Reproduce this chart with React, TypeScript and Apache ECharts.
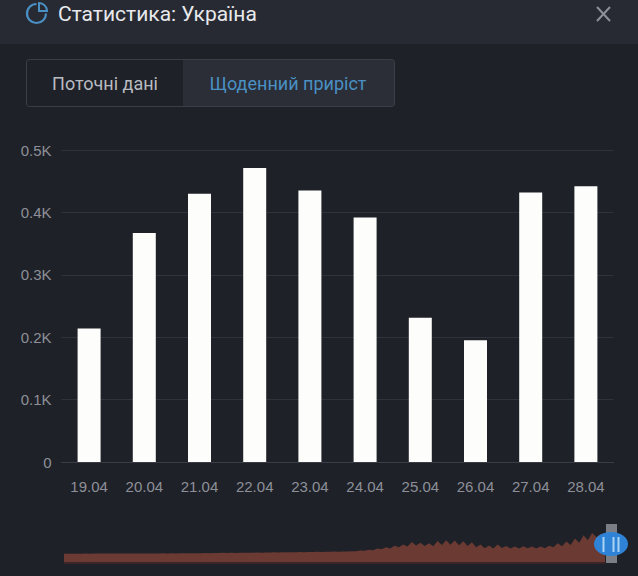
import React, { useEffect, useRef } from "react";
import * as echarts from "echarts";

const titleText = "Статистика: Україна";
const tabLabels = ["Поточні дані", "Щоденний приріст"];
const categories = ["19.04", "20.04", "21.04", "22.04", "23.04", "24.04", "25.04", "26.04", "27.04", "28.04"];
const dailyValues = [214, 367, 430, 471, 435, 392, 231, 195, 432, 442];
const yTicks = [0, 100, 200, 300, 400, 500];
// Overview of the whole period.
const overviewValues = [
  3, 4, 5, 6, 6, 8, 7, 9, 8, 10, 9, 10, 10, 11, 9, 11, 10, 12, 10, 12,
  11, 13, 12, 14, 12, 15, 13, 15, 14, 17, 15, 18, 16, 20, 18, 22, 20, 25, 22, 26,
  24, 28, 26, 30, 28, 32, 30, 34, 32, 36, 34, 38, 36, 40, 38, 42, 40, 45, 44, 48,
  46, 52, 50, 56, 52, 58, 55, 62, 60, 75, 70, 95, 85, 120, 105, 150, 125, 185, 150, 215,
  165, 270, 190, 250, 180, 240, 175, 290, 200, 305, 205, 300, 195, 285, 180, 260, 150, 215, 130, 190,
  125, 215, 135, 180, 120, 165, 125, 175, 130, 170, 120, 165, 130, 185, 150, 240, 175, 280, 200, 345,
  250, 420, 310, 470, 380, 445, 400,
];
const overviewMin = -180;

function App() {
  const ref = useRef<HTMLDivElement>(null);

  useEffect(() => {
    document.body.style.margin = "0";
    document.body.style.background = "#1f2128";
    const chart = echarts.init(ref.current!, null, { renderer: "svg" });
    const font = "Roboto";
    const axisFont = "Liberation Sans";
    const blue = "#4a90c4";
    chart.setOption({
      animation: false,
      backgroundColor: "#1f2128",
      grid: [
        { left: 61.5, right: 24.5, top: 150, height: 312, containLabel: false },
        { left: 64, right: 33, top: 533, height: 29 },
      ],
      xAxis: [
        {
          type: "category",
          gridIndex: 0,
          data: categories,
          axisLine: { lineStyle: { color: "#3a3d46", width: 1 } },
          axisTick: { show: false },
          axisLabel: { color: "#8d9098", fontFamily: axisFont, fontSize: 15, margin: 17 },
        },
        {
          type: "category",
          gridIndex: 1,
          boundaryGap: false,
          axisLine: { show: false },
          axisTick: { show: false },
          axisLabel: { show: false },
        },
      ],
      yAxis: [
        {
          type: "value",
          gridIndex: 0,
          min: yTicks[0],
          max: yTicks[yTicks.length - 1],
          interval: 100,
          axisLine: { show: false },
          axisTick: { show: false },
          splitLine: { lineStyle: { color: "#30333b", width: 1 } },
          axisLabel: {
            color: "#8d9098",
            fontFamily: axisFont,
            fontSize: 15,
            margin: 10,
            formatter: (v: number) => (v === 0 ? "0" : (v / 1000).toFixed(1) + "K"),
          },
        },
        {
          type: "value",
          gridIndex: 1,
          min: overviewMin,
          max: 470,
          axisLine: { show: false },
          axisTick: { show: false },
          axisLabel: { show: false },
          splitLine: { show: false },
        },
      ],
      series: [
        {
          type: "bar",
          xAxisIndex: 0,
          yAxisIndex: 0,
          data: dailyValues,
          barWidth: 23,
          itemStyle: { color: "#fdfdfb" },
        },
        {
          type: "line",
          xAxisIndex: 1,
          yAxisIndex: 1,
          data: overviewValues,
          showSymbol: false,
          smooth: false,
          lineStyle: { width: 0 },
          areaStyle: { color: "#6b3a32", opacity: 1, origin: "start" },
        },
      ],
      graphic: [
        { type: "rect", z: 1, shape: { x: 0, y: 0, width: 638, height: 44 }, style: { fill: "#272a32" } },
        // header icon
        { type: "arc", z: 2, shape: { cx: 36.5, cy: 13.5, r: 9.5, startAngle: 0, endAngle: Math.PI * 1.5 }, style: { stroke: blue, lineWidth: 2.2, fill: "none" } },
        { type: "sector", z: 2, shape: { cx: 39, cy: 11, r0: 0, r: 8, startAngle: -Math.PI / 2, endAngle: 0 }, style: { stroke: blue, lineWidth: 2, fill: "none" } },
        { type: "text", z: 2, x: 58, y: 14, style: { text: titleText, fill: "#e8e9ec", font: `21px ${font}`, textVerticalAlign: "middle" } },
        // close
        { type: "line", z: 2, shape: { x1: 597, y1: 7, x2: 610, y2: 21 }, style: { stroke: "#8d9098", lineWidth: 2 } },
        { type: "line", z: 2, shape: { x1: 610, y1: 7, x2: 597, y2: 21 }, style: { stroke: "#8d9098", lineWidth: 2 } },
        // tabs
        { type: "rect", z: 1, shape: { x: 183, y: 60, width: 212, height: 46, r: [0, 3, 3, 0] }, style: { fill: "#2b2e37" } },
        { type: "rect", z: 2, shape: { x: 26.5, y: 59.5, width: 368, height: 47, r: 3 }, style: { fill: "none", stroke: "#3b3e47", lineWidth: 1 } },
        { type: "text", z: 3, x: 105, y: 83, style: { text: tabLabels[0], fill: "#b9bbc1", font: `18px ${font}`, textAlign: "center", textVerticalAlign: "middle" } },
        { type: "text", z: 3, x: 288, y: 83, style: { text: tabLabels[1], fill: blue, font: `18px ${font}`, textAlign: "center", textVerticalAlign: "middle" } },
        // overview base strip and handle
        { type: "rect", z: 3, shape: { x: 64, y: 562, width: 541, height: 2 }, style: { fill: "#3a2427" } },
        { type: "rect", z: 4, shape: { x: 606, y: 524, width: 11, height: 39 }, style: { fill: "#7b7e85" } },
        { type: "ellipse", z: 5, shape: { cx: 611, cy: 544, rx: 17, ry: 12 }, style: { fill: "#2f83d6" } },
        { type: "rect", z: 6, shape: { x: 602.5, y: 537, width: 2, height: 15 }, style: { fill: "#a9d2f5" } },
        { type: "rect", z: 6, shape: { x: 612.5, y: 537, width: 2, height: 15 }, style: { fill: "#a9d2f5" } },
        { type: "rect", z: 6, shape: { x: 617.5, y: 537, width: 2, height: 15 }, style: { fill: "#a9d2f5" } },
      ],
    });
    return () => chart.dispose();
  }, []);

  return <div ref={ref} style={{ width: 638, height: 576 }} />;
}

export default App;
